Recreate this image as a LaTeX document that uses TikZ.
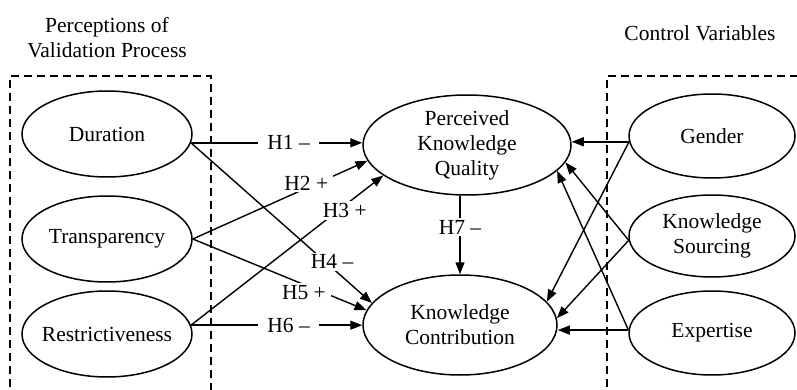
\documentclass[tikz,border=0pt]{standalone}
\usepackage{fontspec}
\setmainfont{Liberation Serif}
\usetikzlibrary{shapes.geometric,arrows.meta}
\begin{document}
\begin{tikzpicture}[x=1pt,y=-1pt,
  font=\fontsize{21.5}{25}\selectfont,
  var/.style={ellipse, draw, line width=1.5pt, inner sep=-18pt, align=center},
  lft/.style={var, minimum width=170pt, minimum height=86pt},
  rgt/.style={var, minimum width=166pt, minimum height=84pt},
  mid/.style={var, minimum width=206pt, minimum height=100pt},
  arr/.style={line width=1.4pt, -{Triangle[length=12pt,width=9pt]}},
  lbl/.style={fill=white, inner xsep=5pt, inner ysep=2pt},
  dbox/.style={line width=1.4pt, dash pattern=on 8pt off 5pt}
]
\clip (0,0) rectangle (797,390);
\fill[white] (0,0) rectangle (797,390);
% group frames
\draw[dbox] (10,400) -- (10,76) -- (211,76) -- (211,400);
\draw[dbox] (607,400) -- (607,76) -- (800,76);
% titles
\node[align=center] (t1) at (107,38) {Perceptions of\\Validation Process};
\node (t2) at (700,33) {Control Variables};
% variables
\node[lft] (dur) at (107,134) {Duration};
\node[lft] (tra) at (107,239) {Transparency};
\node[lft] (res) at (107,334) {Restrictiveness};
\node[mid, minimum width=208pt] (pkq) at (467,145) {Perceived\\Knowledge\\Quality};
\node[mid, minimum width=194pt] (kc) at (460,325) {Knowledge\\Contribution};
\node[rgt] (gen) at (712,136) {Gender};
\node[rgt, minimum height=82pt] (ks) at (712,236) {Knowledge\\Sourcing};
\node[rgt] (exp) at (712,333) {Expertise};
% hypotheses
\draw[arr] (dur.-6) -- node[lbl,pos=.57,inner xsep=9pt]{H1 –} (dur.-6 -| pkq.west);
\draw[arr] (dur.-6) -- node[lbl,pos=.78,yshift=6pt]{H4 –} (kc.166);
\draw[arr] (tra.east) -- node[lbl,pos=.65,yshift=5pt]{H2 +} (pkq.189);
\draw[arr] (tra.east) -- node[lbl,pos=.64,yshift=-8pt]{H5 +} (kc.171);
\draw[arr] (res.6) -- node[lbl,pos=.8,yshift=-5pt]{H3 +} (pkq.200);
\draw[arr] (res.6) -- node[lbl,pos=.57,inner xsep=9pt]{H6 –} (res.6 -| kc.west);
\draw[arr] (pkq.south -| kc.north) -- node[lbl,pos=.4]{H7 –} (kc.north);
% controls
\draw[arr] (gen.184) -- (gen.184 -| pkq.east);
\draw[arr] (gen.184) -- (kc.15);
\draw[arr] (ks.183) -- (pkq.-10);
\draw[arr] (ks.183) -- (kc.4);
\draw[arr] (exp.178) -- (pkq.-16);
\draw[arr] (exp.178) -- (exp.178 -| kc.east);
\end{tikzpicture}
\end{document}
